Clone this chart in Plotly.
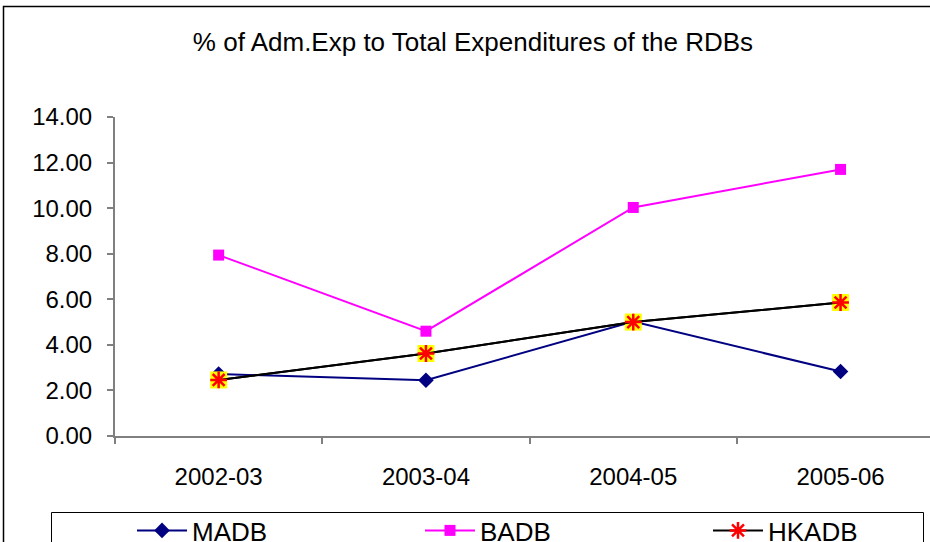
import plotly.graph_objects as go

categories = ["2002-03", "2003-04", "2004-05", "2005-06"]
madb = [2.72, 2.45, 5.02, 2.83]
badb = [7.94, 4.60, 10.03, 11.70]
hkadb = [2.46, 3.62, 5.00, 5.86]
y_ticks = [0, 2, 4, 6, 8, 10, 12, 14]

W, H = 930, 542
T, B = 117, 106
X0 = 115            # y-axis position in pixels
CAT_W = 207.3       # pixel width of one category
ph = H - T - B
FONT = "Liberation Sans, Arial, sans-serif"

def px_x(p):
    return p / W

def px_y(p):
    return (H - B - p) / ph

fig = go.Figure()
fig.add_trace(go.Scatter(x=categories, y=madb, name="MADB", mode="lines+markers",
                         line=dict(color="#000080", width=2),
                         marker=dict(symbol="diamond", size=12, color="#000080")))
fig.add_trace(go.Scatter(x=categories, y=badb, name="BADB", mode="lines+markers",
                         line=dict(color="#FF00FF", width=2),
                         marker=dict(symbol="square", size=11, color="#FF00FF")))
fig.add_trace(go.Scatter(x=categories, y=hkadb, name="HKADB", mode="lines",
                         line=dict(color="#000000", width=2), showlegend=False,
                         legendgroup="hk"))
fig.add_trace(go.Scatter(x=categories, y=hkadb, name="HKADB", mode="markers",
                         marker=dict(symbol="square", size=17, color="#FFFF00"),
                         showlegend=False, legendgroup="hk"))
fig.add_trace(go.Scatter(x=categories, y=hkadb, name="HKADB", mode="lines+markers",
                         line=dict(color="#000000", width=2),
                         marker=dict(symbol="asterisk", size=14,
                                     line=dict(color="#FF0000", width=2.5)),
                         legendgroup="hk"))

axis_font = dict(family=FONT, size=24, color="#000000")

fig.update_layout(
    width=W, height=H,
    margin=dict(l=0, r=0, t=T, b=B, autoexpand=False),
    paper_bgcolor="white", plot_bgcolor="white",
    title=dict(text="% of Adm.Exp to Total Expenditures of the RDBs",
               x=473 / W, xanchor="center", xref="container",
               y=1 - 42 / H, yanchor="middle", yref="container",
               font=dict(family=FONT, size=26, color="#000000")),
    xaxis=dict(type="category", domain=[X0 / W, 1],
               range=[-0.5, -0.5 + (W - X0) / CAT_W],
               showgrid=False, zeroline=False,
               showline=True, linecolor="#808080", linewidth=2,
               ticks="outside", tickson="boundaries", ticklen=6, tickcolor="#808080", tickwidth=2,
               tickfont=axis_font, ticklabelstandoff=18),
    yaxis=dict(range=[0, 14], tickvals=y_ticks, tickformat=".2f",
               showgrid=False, zeroline=False,
               showline=True, linecolor="#808080", linewidth=2,
               ticks="outside", ticklen=6, tickcolor="#808080", tickwidth=2,
               tickfont=axis_font, ticklabelstandoff=10),
    showlegend=True,
    legend=dict(orientation="h", x=px_x(132), xanchor="left",
                y=px_y(507), yanchor="top",
                borderwidth=0, bgcolor="rgba(0,0,0,0)",
                entrywidth=223, entrywidthmode="pixels",
                font=dict(family=FONT, size=26, color="#000000"),
                itemwidth=50),
    shapes=[dict(type="rect", xref="paper", yref="paper",
                 x0=px_x(3.5), x1=px_x(980), y0=px_y(620), y1=px_y(6.5),
                 line=dict(color="#000000", width=1.5), fillcolor="rgba(0,0,0,0)", layer="below"),
            dict(type="rect", xref="paper", yref="paper",
                 x0=px_x(51.5), x1=px_x(923.5), y0=px_y(600), y1=px_y(512.5),
                 line=dict(color="#000000", width=1), fillcolor="white", layer="below")],
)

fig.write_html("out.html", config={"displayModeBar": False},
               post_script="document.body.style.margin='0';document.body.style.overflow='hidden';")
